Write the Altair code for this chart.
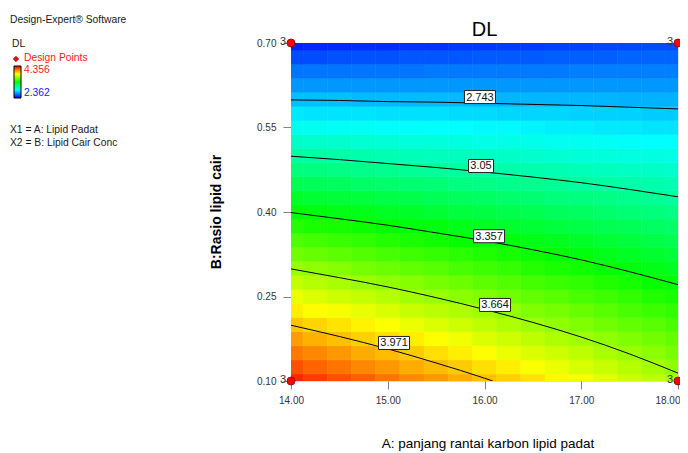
import altair as alt
import pandas as pd

FONT = "Liberation Sans"

# ---------------- data ----------------
# factor grid (A: lipid padat, B: lipid cair)
a_levels = [14.00, 14.25, 14.50, 14.75, 15.00, 15.25, 15.50, 15.75, 16.00,
            16.25, 16.50, 16.75, 17.00, 17.25, 17.50, 17.75, 18.00]
b_levels = [0.100, 0.125, 0.150, 0.175, 0.200, 0.225, 0.250, 0.275, 0.300,
            0.325, 0.350, 0.375, 0.400, 0.425, 0.450, 0.475, 0.500, 0.525,
            0.550, 0.575, 0.600, 0.625, 0.650, 0.675, 0.700]

# DL response, one list per A level (values going up in B)
dl_by_a = [
    [4.28, 4.20, 4.12, 4.05, 3.97, 3.89, 3.82, 3.74, 3.66, 3.58, 3.51, 3.43, 3.35, 3.28, 3.20, 3.12, 3.05, 2.97, 2.89, 2.82, 2.74, 2.66, 2.59, 2.51, 2.43],  # 14.00
    [4.24, 4.16, 4.09, 4.01, 3.94, 3.86, 3.79, 3.71, 3.64, 3.56, 3.49, 3.41, 3.34, 3.26, 3.19, 3.11, 3.04, 2.96, 2.89, 2.81, 2.74, 2.66, 2.59, 2.51, 2.44],  # 14.25
    [4.20, 4.13, 4.06, 3.98, 3.91, 3.84, 3.76, 3.69, 3.62, 3.54, 3.47, 3.40, 3.32, 3.25, 3.18, 3.10, 3.03, 2.96, 2.88, 2.81, 2.74, 2.66, 2.59, 2.52, 2.44],  # 14.50
    [4.17, 4.09, 4.02, 3.95, 3.88, 3.81, 3.74, 3.66, 3.59, 3.52, 3.45, 3.38, 3.31, 3.24, 3.16, 3.09, 3.02, 2.95, 2.88, 2.81, 2.73, 2.66, 2.59, 2.52, 2.45],  # 14.75
    [4.13, 4.06, 3.99, 3.92, 3.85, 3.78, 3.71, 3.64, 3.57, 3.50, 3.43, 3.36, 3.29, 3.22, 3.15, 3.08, 3.01, 2.94, 2.87, 2.80, 2.73, 2.66, 2.59, 2.52, 2.45],  # 15.00
    [4.09, 4.02, 3.96, 3.89, 3.82, 3.75, 3.68, 3.62, 3.55, 3.48, 3.41, 3.34, 3.28, 3.21, 3.14, 3.07, 3.00, 2.93, 2.87, 2.80, 2.73, 2.66, 2.59, 2.53, 2.46],  # 15.25
    [4.06, 3.99, 3.92, 3.86, 3.79, 3.72, 3.66, 3.59, 3.53, 3.46, 3.39, 3.33, 3.26, 3.19, 3.13, 3.06, 2.99, 2.93, 2.86, 2.80, 2.73, 2.66, 2.60, 2.53, 2.46],  # 15.50
    [4.02, 3.96, 3.89, 3.83, 3.76, 3.70, 3.63, 3.57, 3.50, 3.44, 3.37, 3.31, 3.24, 3.18, 3.11, 3.05, 2.99, 2.92, 2.86, 2.79, 2.73, 2.66, 2.60, 2.53, 2.47],  # 15.75
    [3.98, 3.92, 3.86, 3.79, 3.73, 3.67, 3.61, 3.54, 3.48, 3.42, 3.35, 3.29, 3.23, 3.17, 3.10, 3.04, 2.98, 2.91, 2.85, 2.79, 2.72, 2.66, 2.60, 2.54, 2.47],  # 16.00
    [3.95, 3.89, 3.82, 3.76, 3.70, 3.64, 3.58, 3.52, 3.46, 3.40, 3.34, 3.27, 3.21, 3.15, 3.09, 3.03, 2.97, 2.91, 2.85, 2.78, 2.72, 2.66, 2.60, 2.54, 2.48],  # 16.25
    [3.91, 3.85, 3.79, 3.73, 3.67, 3.61, 3.55, 3.49, 3.43, 3.38, 3.32, 3.26, 3.20, 3.14, 3.08, 3.02, 2.96, 2.90, 2.84, 2.78, 2.72, 2.66, 2.60, 2.54, 2.48],  # 16.50
    [3.87, 3.82, 3.76, 3.70, 3.64, 3.59, 3.53, 3.47, 3.41, 3.35, 3.30, 3.24, 3.18, 3.12, 3.07, 3.01, 2.95, 2.89, 2.83, 2.78, 2.72, 2.66, 2.60, 2.55, 2.49],  # 16.75
    [3.84, 3.78, 3.73, 3.67, 3.61, 3.56, 3.50, 3.45, 3.39, 3.33, 3.28, 3.22, 3.17, 3.11, 3.05, 3.00, 2.94, 2.89, 2.83, 2.77, 2.72, 2.66, 2.61, 2.55, 2.49],  # 17.00
    [3.80, 3.75, 3.69, 3.64, 3.58, 3.53, 3.48, 3.42, 3.37, 3.31, 3.26, 3.20, 3.15, 3.10, 3.04, 2.99, 2.93, 2.88, 2.82, 2.77, 2.72, 2.66, 2.61, 2.55, 2.50],  # 17.25
    [3.76, 3.71, 3.66, 3.61, 3.55, 3.50, 3.45, 3.40, 3.34, 3.29, 3.24, 3.19, 3.13, 3.08, 3.03, 2.98, 2.92, 2.87, 2.82, 2.77, 2.71, 2.66, 2.61, 2.56, 2.50],  # 17.50
    [3.73, 3.68, 3.63, 3.58, 3.53, 3.47, 3.42, 3.37, 3.32, 3.27, 3.22, 3.17, 3.12, 3.07, 3.02, 2.97, 2.92, 2.86, 2.81, 2.76, 2.71, 2.66, 2.61, 2.56, 2.51],  # 17.75
    [3.69, 3.64, 3.59, 3.55, 3.50, 3.45, 3.40, 3.35, 3.30, 3.25, 3.20, 3.15, 3.10, 3.05, 3.01, 2.96, 2.91, 2.86, 2.81, 2.76, 2.71, 2.66, 2.61, 2.56, 2.51],  # 18.00
]

# contour lines (B position read at each A)
contour_a = [14.0, 14.5, 15.0, 15.5, 16.0, 16.5, 17.0, 17.5, 18.0]
contour_2743_b = [0.599, 0.598, 0.596, 0.595, 0.593, 0.591, 0.589, 0.586, 0.583]
contour_3050_b = [0.499, 0.493, 0.486, 0.479, 0.471, 0.462, 0.452, 0.440, 0.427]
contour_3357_b = [0.399, 0.388, 0.3765, 0.363, 0.349, 0.333, 0.315, 0.294, 0.271]
contour_3664_b = [0.299, 0.2835, 0.267, 0.248, 0.227, 0.204, 0.178, 0.148, 0.114]
contour_3971_a = [14.0, 14.5, 15.0, 15.5, 16.0, 16.085]
contour_3971_b = [0.199, 0.179, 0.157, 0.132, 0.105, 0.100]

# contour labels
label_text = ["2.743", "3.05", "3.357", "3.664", "3.971"]
label_a = [15.953, 15.964, 16.047, 16.109, 15.065]
label_b = [0.604, 0.4817, 0.357, 0.235, 0.1675]

# design points
design_a = [14.0, 14.0, 18.0, 18.0]
design_b = [0.10, 0.70, 0.10, 0.70]
design_runs = ["3", "3", "3", "3"]

x_ticks = [14, 15, 16, 17, 18]
y_ticks = [0.10, 0.25, 0.40, 0.55, 0.70]
dl_low, dl_high = 2.362, 4.356

# ---------------- tables ----------------
half_a = (a_levels[1] - a_levels[0]) / 2
half_b = (b_levels[1] - b_levels[0]) / 2
rows = []
for a, col in zip(a_levels, dl_by_a):
    for b, v in zip(b_levels, col):
        rows.append({"A": a, "B": b, "DL": v,
                     "a_lo": a - half_a, "a_hi": a + half_a,
                     "b_lo": b - half_b, "b_hi": b + half_b})
grid = pd.DataFrame(rows)

cont_rows = []
for lvl, bs in [("2.743", contour_2743_b), ("3.05", contour_3050_b),
                ("3.357", contour_3357_b), ("3.664", contour_3664_b)]:
    for i, (a, b) in enumerate(zip(contour_a, bs)):
        cont_rows.append({"level": lvl, "A": a, "B": b, "i": i})
for i, (a, b) in enumerate(zip(contour_3971_a, contour_3971_b)):
    cont_rows.append({"level": "3.971", "A": a, "B": b, "i": i})
contours = pd.DataFrame(cont_rows)

labels = pd.DataFrame({"label": label_text, "A": label_a, "B": label_b})
design = pd.DataFrame({"A": design_a, "B": design_b, "runs": design_runs})

# ---------------- encodings ----------------
last_x = x_ticks[-1]
xs = alt.Scale(domain=[14, 18], nice=False, zero=False)
ys = alt.Scale(domain=[0.10, 0.70], nice=False, zero=False)
xa = alt.Axis(values=x_ticks, format=".2f", title=None, domain=False, grid=False,
              tickSize=8, tickColor="#808080", labelPadding=6, labelFontSize=10,
              labelColor="#333333", labelFont=FONT, labelFlush=False,
              labelAlign={"condition": {"test": f"datum.value == {last_x}", "value": "right"},
                          "value": "center"},
              labelOffset={"condition": {"test": f"datum.value == {last_x}", "value": 2},
                           "value": 0})
ya = alt.Axis(values=y_ticks, format=".2f", title=None, domain=False, grid=False,
              tickSize=8, tickColor="#808080", labelPadding=7, labelFontSize=10,
              labelColor="#333333", labelFont=FONT, labelFlush=False)
color_scale = alt.Scale(domain=[dl_low, dl_high],
                        range=["#0000ff", "#00ffff", "#00ff00", "#ffff00", "#ff0000"],
                        interpolate="rgb", clamp=True)


def X(f):
    return alt.X(f, type="quantitative", scale=xs, axis=xa)


def Y(f):
    return alt.Y(f, type="quantitative", scale=ys, axis=ya)


heat = alt.Chart(grid).mark_rect(clip=True, strokeWidth=0.6).encode(
    x=X("a_lo"), x2="a_hi", y=Y("b_lo"), y2="b_hi",
    color=alt.Color("DL:Q", scale=color_scale, legend=None),
    stroke=alt.Stroke("DL:Q", scale=color_scale, legend=None),
)

lines = alt.Chart(contours).mark_line(color="black", strokeWidth=1, clip=True,
                                      interpolate="monotone").encode(
    x=X("A"), y=Y("B"), detail="level:N", order="i:Q")

box_path5 = "M-1,-0.42L1,-0.42L1,0.42L-1,0.42Z"
box_path4 = "M-1,-0.52L1,-0.52L1,0.52L-1,0.52Z"
boxes5 = alt.Chart(labels).transform_filter("length(datum.label) == 5").mark_point(
    shape=box_path5, size=961, filled=True, fill="white", stroke="#222222",
    strokeWidth=1, opacity=1).encode(x=X("A"), y=Y("B"))
boxes4 = alt.Chart(labels).transform_filter("length(datum.label) == 4").mark_point(
    shape=box_path4, size=625, filled=True, fill="white", stroke="#222222",
    strokeWidth=1, opacity=1).encode(x=X("A"), y=Y("B"))
label_text_layer = alt.Chart(labels).mark_text(
    font=FONT, fontSize=11, color="#111111", baseline="middle", dy=0.5).encode(
    x=X("A"), y=Y("B"), text="label:N")

points = alt.Chart(design).mark_circle(size=64, color="#ff0000", stroke="#8b0000",
                                       strokeWidth=0.8, opacity=1).encode(
    x=X("A"), y=Y("B"))
runs = alt.Chart(design).mark_text(font=FONT, fontSize=11, color="#333333",
                                   align="right", baseline="middle", dx=-5, dy=-1).encode(
    x=X("A"), y=Y("B"), text="runs:N")


def note(text, x, y, size=10, color="#1a1a1a", align="left", weight="normal", angle=0):
    return alt.Chart(alt.Data(values=[{}])).mark_text(
        text=text, font=FONT, fontSize=size, color=color, align=align,
        baseline="middle", fontWeight=weight, angle=angle).encode(
        x=alt.value(x), y=alt.value(y))


bar = alt.Chart(alt.Data(values=[{}])).mark_rect(
    color=alt.Gradient(gradient="linear",
                       stops=[alt.GradientStop(color="#ff0000", offset=0),
                              alt.GradientStop(color="#ffff00", offset=0.25),
                              alt.GradientStop(color="#00ff00", offset=0.5),
                              alt.GradientStop(color="#00ffff", offset=0.75),
                              alt.GradientStop(color="#0000ff", offset=1)],
                       x1=0, x2=0, y1=0, y2=1),
    stroke="#000000", strokeWidth=1).encode(
    x=alt.value(-277), x2=alt.value(-270), y=alt.value(23), y2=alt.value(55))

marker = alt.Chart(alt.Data(values=[{}])).mark_point(
    shape="diamond", filled=True, fill="#ff0000", stroke="#800000", strokeWidth=0.8,
    size=28, opacity=1).encode(x=alt.value(-275), y=alt.value(16))

chart = alt.layer(
    heat, lines, boxes5, boxes4, label_text_layer, points, runs,
    note("DL", 193.5, -13, size=20, color="#000000", align="center"),
    note("A: panjang rantai karbon lipid padat", 197, 401, size=13.5,
         color="#000000", align="center"),
    note("B:Rasio lipid cair", -74, 169, size=14, color="#000000", align="center",
         weight="bold", angle=270),
    note("Design-Expert® Software", -281, -23, size=10.3),
    note("DL", -279, 1, size=10.3),
    marker,
    note("Design Points", -267, 15, color="#ff2020", size=10.3),
    bar,
    note(str(dl_high), -267, 26.5, color="#ff2020", size=10.3),
    note(str(dl_low), -267, 50, color="#2020ff", size=10.3),
    note("X1 = A: Lipid Padat", -281, 87, size=10.3),
    note("X2 = B: Lipid Cair Conc", -281, 99.5, size=10.3),
).properties(
    width=387, height=338,
    autosize=alt.AutoSizeParams(type="none"),
    padding={"left": 283, "top": 35, "right": 2, "bottom": 71},
).configure_view(stroke="#7a7a7a", strokeWidth=1.2).configure(background="white")

chart.save("out.html", embed_options={"renderer": "svg", "actions": False})
